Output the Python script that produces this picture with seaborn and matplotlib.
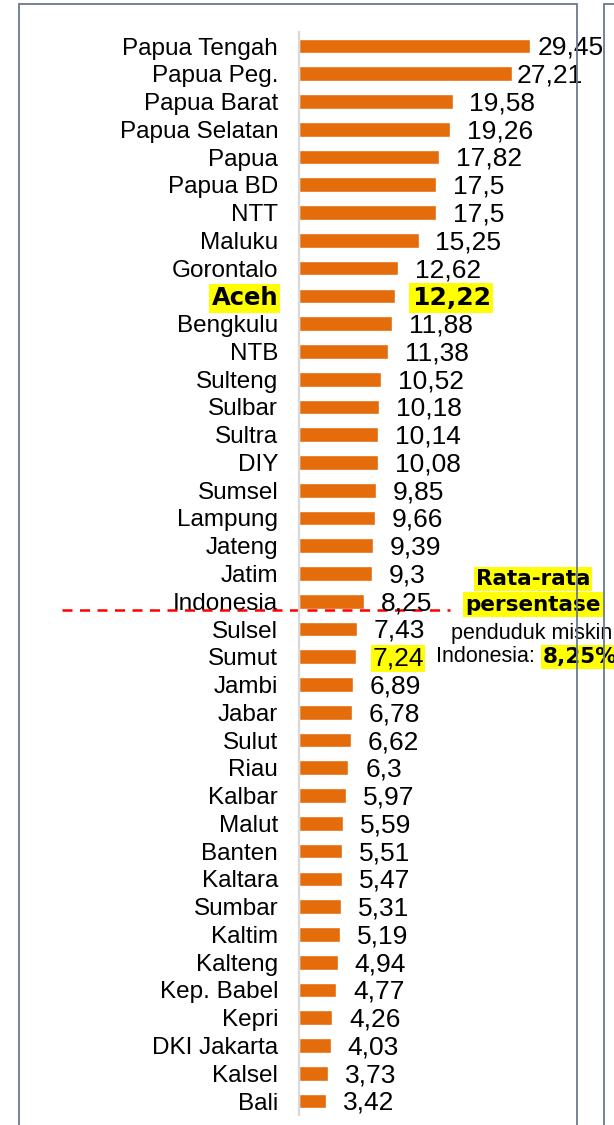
import pandas as pd
import seaborn as sns
import matplotlib

matplotlib.use('Agg')
import matplotlib.pyplot as plt
from matplotlib.patches import Rectangle
from matplotlib.lines import Line2D

# Persentase penduduk miskin per provinsi
provinsi = ['Papua Tengah', 'Papua Peg.', 'Papua Barat', 'Papua Selatan', 'Papua',
            'Papua BD', 'NTT', 'Maluku', 'Gorontalo', 'Aceh', 'Bengkulu', 'NTB',
            'Sulteng', 'Sulbar', 'Sultra', 'DIY', 'Sumsel', 'Lampung', 'Jateng',
            'Jatim', 'Indonesia', 'Sulsel', 'Sumut', 'Jambi', 'Jabar', 'Sulut',
            'Riau', 'Kalbar', 'Malut', 'Banten', 'Kaltara', 'Sumbar', 'Kaltim',
            'Kalteng', 'Kep. Babel', 'Kepri', 'DKI Jakarta', 'Kalsel', 'Bali']
persen = [29.45, 27.21, 19.58, 19.26, 17.82, 17.5, 17.5, 15.25, 12.62, 12.22,
          11.88, 11.38, 10.52, 10.18, 10.14, 10.08, 9.85, 9.66, 9.39, 9.3,
          8.25, 7.43, 7.24, 6.89, 6.78, 6.62, 6.3, 5.97, 5.59, 5.51, 5.47,
          5.31, 5.19, 4.94, 4.77, 4.26, 4.03, 3.73, 3.42]
sorot = 'Aceh'
label_kuning = 'Sumut'
rata_rata = 8.25

sns.set_style('white')
plt.rcParams['font.family'] = ['Liberation Sans', 'DejaVu Sans']
plt.rcParams['text.color'] = 'black'

W, H = 614, 1125
fig = plt.figure(figsize=(W / 100, H / 100), dpi=100)
n = len(provinsi)
step = (1101 - 46) / (n - 1)
top = 46 - step / 2
bottom = 1101 + step / 2
ax = fig.add_axes([299 / W, 1 - bottom / H, 274 / W, (bottom - top) / H])

df = pd.DataFrame({'Provinsi': provinsi, 'Persen': persen})
sns.barplot(data=df, y='Provinsi', x='Persen', orient='h', color='#E46C0A',
            saturation=1, width=0.53, ax=ax)
ax.set_xlim(0, 274 / 7.84)
ax.set_ylim(n - 0.5, -0.5)
ax.set_xticks([])
ax.set_xlabel('')
ax.set_ylabel('')
sns.despine(ax=ax, bottom=True)
ax.spines['left'].set_color('#D9D9D9')
ax.spines['left'].set_linewidth(1.6)
ax.tick_params(axis='y', length=0, pad=15, labelsize=17.5, labelcolor='black')

# label sumbu y: Aceh disorot
i_sorot = provinsi.index(sorot)
lbl = ax.get_yticklabels()[i_sorot]
lbl.set_fontfamily('DejaVu Sans')
lbl.set_fontweight('bold')
lbl.set_bbox(dict(facecolor='#FFFF00', edgecolor='none', pad=1.5))


def fmt(v):
    return f'{v:g}'.replace('.', ',')


# label nilai
geser = {0: 1.0, 1: 0.5}
for i, v in enumerate(persen):
    off = geser.get(i, 2.15)
    y = i + 0.07
    if provinsi[i] == sorot:
        ax.text(v + off, y, fmt(v), va='center', ha='left', fontsize=18,
                family='DejaVu Sans', fontweight='bold', clip_on=False,
                bbox=dict(facecolor='#FFFF00', edgecolor='none', pad=2))
    elif provinsi[i] == label_kuning:
        ax.text(v + off, y, fmt(v), va='center', ha='left', fontsize=19,
                clip_on=False,
                bbox=dict(facecolor='#FFFF00', edgecolor='none', pad=1))
    else:
        ax.text(v + off, y, fmt(v), va='center', ha='left', fontsize=19,
                clip_on=False)

# garis rata-rata Indonesia
i_indo = provinsi.index('Indonesia')
y_garis = i_indo + 0.3
ax.plot([-30.2, 19.3], [y_garis, y_garis], color='#FF0000', lw=1.8,
        dashes=(4, 3), clip_on=False)

# keterangan
x_ket = 29.85
ax.text(x_ket, i_indo - 0.8, 'Rata-rata', ha='center', va='center',
        fontsize=15.5, family='DejaVu Sans', fontweight='bold', clip_on=False,
        bbox=dict(facecolor='#FFFF00', edgecolor='none', pad=1.5))
ax.text(x_ket, i_indo + 0.12, 'persentase', ha='center', va='center',
        fontsize=15.5, family='DejaVu Sans', fontweight='bold', clip_on=False,
        bbox=dict(facecolor='#FFFF00', edgecolor='none', pad=1.5))
ax.text(19.4, i_indo + 1.15, 'penduduk miskin', ha='left', va='center',
        fontsize=15.5, clip_on=False)
ax.text(30.9, i_indo + 2.0, 'Indonesia: ', ha='right', va='center',
        fontsize=15.5, clip_on=False)
ax.text(31.1, i_indo + 2.0, fmt(rata_rata) + '%', ha='left', va='center',
        fontsize=15.5, family='DejaVu Sans', fontweight='bold', clip_on=False,
        bbox=dict(facecolor='#FFFF00', edgecolor='none', pad=1.5))

# bingkai panel
warna_bingkai = '#6A7A90'
fig.add_artist(Rectangle((19 / W, -0.01), (577 - 19) / W, 1 - 4 / H + 0.01,
                         transform=fig.transFigure, fill=False,
                         edgecolor=warna_bingkai, lw=1.3))
fig.add_artist(Line2D([604 / W, 604 / W], [0, 1 - 4 / H],
                      transform=fig.transFigure, color=warna_bingkai, lw=1.3))
fig.add_artist(Line2D([604 / W, 1], [1 - 4 / H, 1 - 4 / H],
                      transform=fig.transFigure, color=warna_bingkai, lw=1.3))

fig.savefig('out.png', dpi=100)
